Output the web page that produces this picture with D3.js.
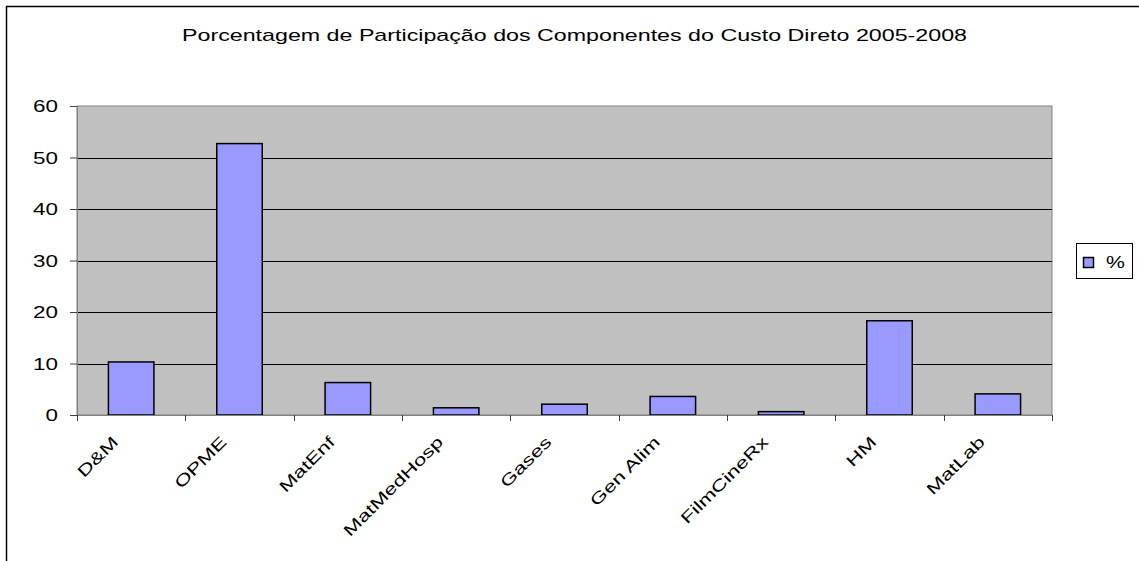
<!DOCTYPE html>
<html>
<head>
<meta charset="utf-8">
<script src="https://cdn.jsdelivr.net/npm/d3@7"></script>
<style>
  body { margin: 0; background: #fff; }
  text { font-family: "Liberation Sans", Arial, sans-serif; }
</style>
</head>
<body>
<svg id="chart" width="1139" height="561"></svg>
<script>
// chart data
const categories = ["D&M", "OPME", "MatEnf", "MatMedHosp", "Gases", "Gen Alim", "FilmCineRx", "HM", "MatLab"];
const percentValues = [10.3, 52.7, 6.3, 1.4, 2.1, 3.6, 0.65, 18.3, 4.1];
const yTicks = [0, 10, 20, 30, 40, 50, 60];
const seriesName = "%";
const chartTitle = "Porcentagem de Participação dos Componentes do Custo Direto 2005-2008";

// the source text is drawn wide, so glyphs get stretched along the baseline
const textStretch = 1.4;

let svg = d3.select("#chart");

// outer frame (runs off the right and bottom edges)
svg.append("rect")
    .attr("x", 6.5).attr("y", 6.5)
    .attr("width", 1150).attr("height", 570)
    .attr("fill", "#fff")
    .attr("stroke", "#000")
    .attr("stroke-width", 1.5);

let plot = {left: 77, right: 1052, top: 106, bottom: 415};

let xScale = d3.scaleBand()
    .domain(categories)
    .range([plot.left, plot.right])
    .paddingInner(0.58)
    .paddingOuter(0.29);

let bandScale = d3.scaleBand()
    .domain(categories)
    .range([plot.left, plot.right]);

let yScale = d3.scaleLinear()
    .domain([0, 60])
    .range([plot.bottom, plot.top]);

// plot background
svg.append("rect")
    .attr("x", plot.left).attr("y", plot.top)
    .attr("width", plot.right - plot.left)
    .attr("height", plot.bottom - plot.top)
    .attr("fill", "#c0c0c0")
    .attr("stroke", "#808080")
    .attr("stroke-width", 1);

// gridlines
svg.append("g").selectAll("line")
    .data(yTicks.filter(d => d > 0 && d < 60))
    .enter().append("line")
    .attr("x1", plot.left).attr("x2", plot.right)
    .attr("y1", d => Math.round(yScale(d)) + 0.5)
    .attr("y2", d => Math.round(yScale(d)) + 0.5)
    .attr("stroke", "#000")
    .attr("stroke-width", 1);

// y axis: ticks from d3, labels drawn separately so they can be stretched
let yAxis = d3.axisLeft(yScale).tickValues(yTicks).tickSize(7).tickFormat("");
let yAxisG = svg.append("g")
    .attr("transform", "translate(" + plot.left + ",0)")
    .call(yAxis);
yAxisG.select(".domain").attr("stroke", "#808080");
yAxisG.selectAll(".tick line").attr("stroke", "#404040");

svg.append("g").selectAll("text")
    .data(yTicks)
    .enter().append("text")
    .attr("transform", d => "translate(58," + (yScale(d) + 6) + ") scale(" + textStretch + ",1)")
    .attr("text-anchor", "end")
    .attr("font-size", "16px")
    .attr("fill", "#000")
    .text(d => d);

// bars
svg.append("g").selectAll("rect")
    .data(percentValues)
    .enter().append("rect")
    .attr("x", (d, i) => xScale(categories[i]))
    .attr("y", d => yScale(d))
    .attr("width", xScale.bandwidth())
    .attr("height", d => plot.bottom - yScale(d))
    .attr("fill", "#9999ff")
    .attr("stroke", "#000")
    .attr("stroke-width", 1.5);

// x axis baseline and ticks at band boundaries
svg.append("line")
    .attr("x1", plot.left).attr("x2", plot.right)
    .attr("y1", plot.bottom + 0.5).attr("y2", plot.bottom + 0.5)
    .attr("stroke", "#808080");

let boundaries = categories.map(c => bandScale(c)).concat([plot.right]);
svg.append("g").selectAll("line")
    .data(boundaries)
    .enter().append("line")
    .attr("x1", d => Math.round(d) + 0.5)
    .attr("x2", d => Math.round(d) + 0.5)
    .attr("y1", plot.bottom)
    .attr("y2", plot.bottom + 6)
    .attr("stroke", "#404040");

// rotated category labels
svg.append("g").selectAll("text")
    .data(categories)
    .enter().append("text")
    .attr("transform", d => {
        let cx = bandScale(d) + bandScale.bandwidth() / 2 - 12;
        return "translate(" + cx + "," + (plot.bottom + 28) + ") rotate(-45) scale(" + textStretch + ",1)";
    })
    .attr("text-anchor", "end")
    .attr("font-size", "16px")
    .attr("fill", "#000")
    .text(d => d);

// title
svg.append("text")
    .attr("x", 182)
    .attr("y", 41)
    .attr("textLength", 785)
    .attr("lengthAdjust", "spacingAndGlyphs")
    .attr("font-size", "17px")
    .attr("fill", "#000")
    .text(chartTitle);

// legend
let legend = svg.append("g");
legend.append("rect")
    .attr("x", 1076.5).attr("y", 243.5)
    .attr("width", 56).attr("height", 35)
    .attr("fill", "#fff")
    .attr("stroke", "#000")
    .attr("stroke-width", 1);
legend.append("rect")
    .attr("x", 1083.5).attr("y", 257.5)
    .attr("width", 10).attr("height", 10)
    .attr("fill", "#9999ff")
    .attr("stroke", "#000")
    .attr("stroke-width", 1.5);
legend.append("text")
    .attr("transform", "translate(1106,268) scale(1.25,1)")
    .attr("font-size", "17px")
    .attr("fill", "#000")
    .text(seriesName);
</script>
</body>
</html>
